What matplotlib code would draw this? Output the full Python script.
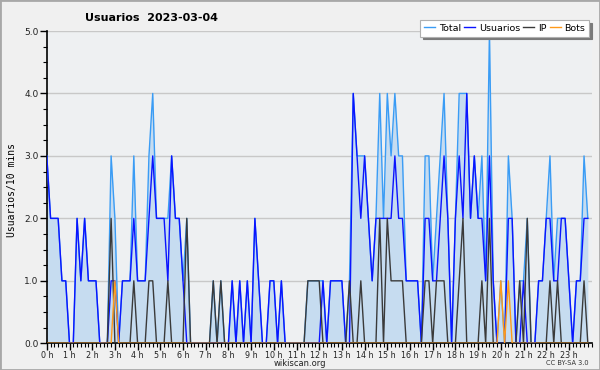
import matplotlib
matplotlib.use('Agg')
import matplotlib.pyplot as plt
import numpy as np
from matplotlib.ticker import MultipleLocator, FixedLocator
from matplotlib.lines import Line2D
from matplotlib.patches import Rectangle

# 10-minute slots, 6 per hour (one row per hour)
usuarios = [
    3, 2, 2, 2, 1, 1,
    0, 0, 2, 1, 2, 1,
    1, 1, 0, 0, 0, 1,
    1, 0, 1, 1, 1, 2,
    1, 1, 1, 2, 3, 2,
    2, 2, 1, 3, 2, 2,
    1, 0, 0, 0, 0, 0,
    0, 0, 0, 0, 0, 0,
    0, 1, 0, 1, 0, 1,
    0, 2, 1, 0, 0, 1,
    1, 0, 1, 0, 0, 0,
    0, 0, 0, 0, 0, 0,
    0, 1, 0, 1, 1, 1,
    1, 0, 0, 4, 3, 2,
    3, 2, 1, 2, 2, 2,
    2, 2, 3, 2, 2, 1,
    1, 1, 1, 0, 2, 2,
    1, 1, 2, 3, 2, 0,
    2, 3, 2, 4, 2, 3,
    2, 2, 1, 3, 1, 0,
    0, 0, 2, 2, 0, 0,
    1, 0, 0, 0, 1, 1,
    2, 2, 1, 1, 2, 2,
    1, 0, 1, 1, 2, 2,
]
ip = [
    0, 0, 0, 0, 0, 0,
    0, 0, 0, 0, 0, 0,
    0, 0, 0, 0, 0, 2,
    0, 0, 0, 0, 0, 1,
    0, 0, 0, 1, 1, 0,
    0, 0, 1, 0, 0, 0,
    0, 2, 0, 0, 0, 0,
    0, 0, 1, 0, 1, 0,
    0, 0, 0, 0, 0, 0,
    0, 0, 0, 0, 0, 0,
    0, 0, 0, 0, 0, 0,
    0, 0, 0, 1, 1, 1,
    1, 0, 0, 0, 0, 0,
    0, 0, 1, 0, 0, 1,
    0, 0, 0, 0, 2, 0,
    2, 1, 1, 1, 1, 0,
    0, 0, 0, 0, 1, 1,
    0, 1, 1, 1, 0, 0,
    0, 1, 2, 0, 0, 0,
    0, 1, 0, 2, 0, 0,
    0, 0, 0, 0, 0, 1,
    0, 2, 0, 0, 0, 0,
    0, 1, 0, 1, 0, 0,
    0, 0, 0, 0, 1, 0,
]
bots = [
    0, 0, 0, 0, 0, 0,
    0, 0, 0, 0, 0, 0,
    0, 0, 0, 0, 0, 0,
    1, 0, 0, 0, 0, 0,
    0, 0, 0, 0, 0, 0,
    0, 0, 0, 0, 0, 0,
    0, 0, 0, 0, 0, 0,
    0, 0, 0, 0, 0, 0,
    0, 0, 0, 0, 0, 0,
    0, 0, 0, 0, 0, 0,
    0, 0, 0, 0, 0, 0,
    0, 0, 0, 0, 0, 0,
    0, 0, 0, 0, 0, 0,
    0, 0, 0, 0, 0, 0,
    0, 0, 0, 0, 0, 0,
    0, 0, 0, 0, 0, 0,
    0, 0, 0, 0, 0, 0,
    0, 0, 0, 0, 0, 0,
    0, 0, 0, 0, 0, 0,
    0, 0, 0, 0, 0, 0,
    1, 0, 1, 0, 0, 0,
    0, 0, 0, 0, 0, 0,
    0, 0, 0, 0, 0, 0,
    0, 0, 0, 0, 0, 0,
]
total = [
    3, 2, 2, 2, 1, 1,
    0, 0, 2, 1, 2, 1,
    1, 1, 0, 0, 0, 3,
    2, 0, 1, 1, 1, 3,
    1, 1, 1, 3, 4, 2,
    2, 2, 2, 3, 2, 2,
    1, 2, 0, 0, 0, 0,
    0, 0, 1, 0, 1, 0,
    0, 1, 0, 1, 0, 1,
    0, 2, 1, 0, 0, 1,
    1, 0, 1, 0, 0, 0,
    0, 0, 0, 1, 1, 1,
    1, 1, 0, 1, 1, 1,
    1, 0, 1, 4, 3, 3,
    3, 2, 1, 2, 4, 2,
    4, 3, 4, 3, 3, 1,
    1, 1, 1, 0, 3, 3,
    1, 2, 3, 4, 2, 0,
    2, 4, 4, 4, 2, 3,
    2, 3, 1, 5, 1, 0,
    1, 0, 3, 2, 0, 1,
    1, 2, 0, 0, 1, 1,
    2, 3, 1, 2, 2, 2,
    1, 0, 1, 1, 3, 2,
]
hour_labels = [f"{h} h" for h in range(24)]
y_ticks = [0, 1, 2, 3, 4, 5]
title = "Usuarios  2023-03-04"
ylabel = "Usuarios/10 mins"
series_names = ["Total", "Usuarios", "IP", "Bots"]

c_total = '#3a9cf5'
c_fill = '#c6dcf0'
c_users = '#0a14ff'
c_ip = '#3a3a3a'
c_bots = '#ff9a1a'

x = np.arange(len(total)) / 6.0

fig = plt.figure(figsize=(6, 3.7), dpi=100, facecolor='#f0f0f0')
ax = fig.add_axes([0.078, 0.0722, 0.908, 0.844])
ax.set_facecolor('#eef0f2')

ax.fill_between(x, total, 0, color=c_fill, lw=0, zorder=1)
ax.plot(x, total, color=c_total, lw=1.0, zorder=3)
ax.plot(x, usuarios, color=c_users, lw=1.0, zorder=4)
ax.plot(x, ip, color=c_ip, lw=1.0, zorder=5)
ax.plot(x, bots, color=c_bots, lw=1.0, zorder=6)

ax.set_xlim(0, 24)
ax.set_ylim(0, 5)
for yv in y_ticks[1:]:
    ax.axhline(yv, color='#c8c8c8', lw=1.0, zorder=0.5)

ax.xaxis.set_major_locator(FixedLocator(range(24)))
ax.set_xticklabels(hour_labels)
ax.xaxis.set_minor_locator(MultipleLocator(1 / 6))
ax.set_yticks(y_ticks)
ax.set_yticklabels([f"{v:.1f}" for v in y_ticks])
ax.yaxis.set_minor_locator(MultipleLocator(0.25))
ax.tick_params(axis='y', which='major', direction='out', length=5, width=1,
               labelsize=6.5, pad=1, colors='black', labelcolor='#222222')
ax.tick_params(axis='x', which='major', direction='out', length=5, width=1,
               labelsize=5.8, pad=0.5, colors='black', labelcolor='#222222')
ax.tick_params(axis='both', which='minor', direction='out', length=3, width=0.8)

for s in ['top', 'right']:
    ax.spines[s].set_visible(False)
for s in ['left', 'bottom']:
    ax.spines[s].set_linewidth(1.2)

fig.text(85 / 600, 1 - 18 / 370, title, fontsize=8, fontweight='bold',
         ha='left', va='center')
fig.text(12 / 600, 1 - 190 / 370, ylabel, rotation=90, fontsize=7,
         family='DejaVu Sans Mono', ha='center', va='center')
fig.text(300 / 600, 1 - 363 / 370, "wikiscan.org", fontsize=6,
         ha='center', va='center', color='#222222')
fig.text(589 / 600, 1 - 363 / 370, "CC BY-SA 3.0", fontsize=4.8,
         ha='right', va='center', color='#333333')

handles = [Line2D([], [], color=c, lw=1.0) for c in [c_total, c_users, c_ip, c_bots]]
leg = fig.legend(handles, series_names, ncol=4, loc='upper right',
                 bbox_to_anchor=(589 / 600, 1 - 20 / 370), frameon=True,
                 fancybox=False, shadow={'color': '#7a7a7a', 'alpha': 1.0},
                 fontsize=6.8, handlelength=1.15, handletextpad=0.4,
                 columnspacing=0.35, borderpad=0.4, borderaxespad=0)
leg.get_frame().set_edgecolor('#b0b0b0')
leg.get_frame().set_linewidth(0.8)

fig.patches.append(Rectangle((0, 0), 1, 1, transform=fig.transFigure,
                             fill=False, edgecolor='#a8a8a8', lw=2))

fig.savefig('out.png', dpi=100, facecolor=fig.get_facecolor())
